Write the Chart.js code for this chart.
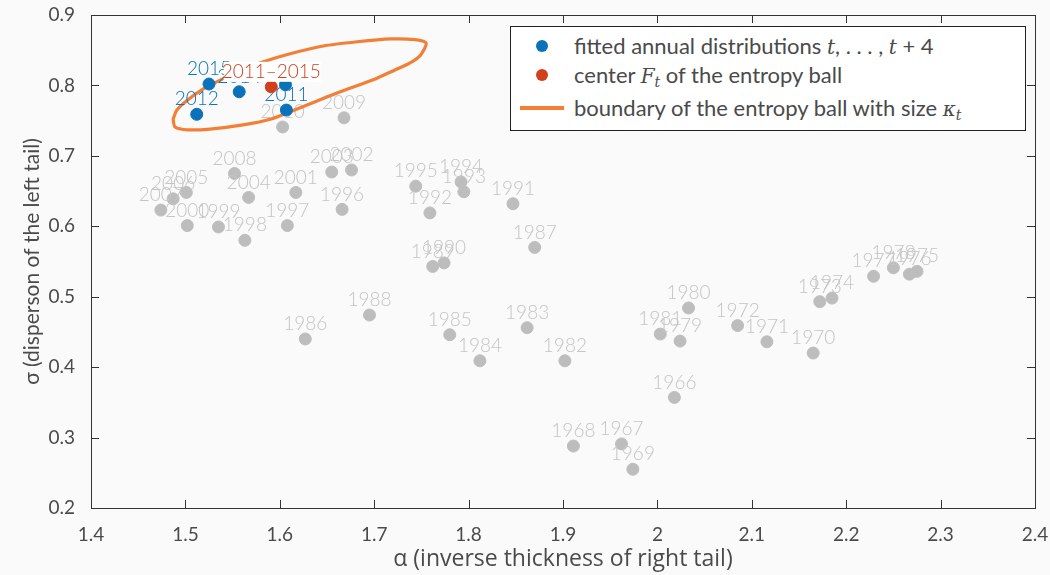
<!DOCTYPE html>
<html>
<head>
<meta charset="utf-8">
<script src="https://cdn.jsdelivr.net/npm/chart.js@4.4.1/dist/chart.umd.min.js"></script>
<style>
  html, body { margin: 0; padding: 0; background: #fafafa; }
  #wrap { position: relative; width: 1050px; height: 575px; }
  #legend {
    position: absolute; left: 510px; top: 26px; width: 514px; height: 103px;
    background: #ffffff; border: 1.5px solid #222;
    font-family: "Lato", "Open Sans", sans-serif; font-size: 22px; color: #4a4a4a;
  }
  .row { position: absolute; left: 0; height: 26px; line-height: 26px; white-space: nowrap; }
  .row .txt { position: absolute; left: 63px; top: 0; }
  .dot { position: absolute; left: 25px; top: 7px; width: 12px; height: 12px; border-radius: 50%; }
  .bar { position: absolute; left: 9px; top: 11px; width: 44px; height: 4px; }
  .m { font-family: "DejaVu Serif", "Liberation Serif", serif; font-style: italic; font-size: 20px; }
  .m sub { font-size: 14px; vertical-align: -4px; }
</style>
</head>
<body>
<div id="wrap">
  <canvas id="c" width="1050" height="575"></canvas>
  <div id="legend"></div>
</div>
<script>
// Yearly fitted parameters (alpha, sigma) for all years outside the current window
const greyYears = [2010, 2009, 2008, 2005, 2006, 2007, 2004, 2001, 2003, 2002, 1996, 2000, 1999, 1998, 1997,
                   1995, 1994, 1993, 1992, 1991, 1987, 1989, 1990, 1986, 1988, 1985, 1984, 1983, 1982,
                   1980, 1981, 1979, 1966, 1968, 1967, 1969, 1972, 1971, 1970, 1973, 1974, 1977, 1978, 1976, 1975];
const greyAlpha = [1.603, 1.668, 1.552, 1.501, 1.487, 1.474, 1.567, 1.617, 1.655, 1.676, 1.666, 1.502, 1.535, 1.563, 1.608,
                   1.744, 1.792, 1.795, 1.759, 1.847, 1.870, 1.762, 1.774, 1.627, 1.695, 1.780, 1.812, 1.862, 1.902,
                   2.033, 2.003, 2.024, 2.018, 1.911, 1.962, 1.974, 2.085, 2.116, 2.165, 2.172, 2.185, 2.229, 2.250, 2.267, 2.275];
const greySigma = [0.741, 0.754, 0.675, 0.648, 0.639, 0.623, 0.641, 0.648, 0.677, 0.680, 0.624, 0.601, 0.599, 0.580, 0.601,
                   0.657, 0.663, 0.649, 0.619, 0.632, 0.570, 0.543, 0.548, 0.440, 0.474, 0.446, 0.409, 0.456, 0.409,
                   0.484, 0.447, 0.437, 0.357, 0.288, 0.291, 0.255, 0.459, 0.436, 0.420, 0.493, 0.498, 0.529, 0.541, 0.532, 0.536];

// Fitted annual distributions t, ..., t+4
const windowYears = [2015, 2014, 2013, 2011, 2012];
const windowAlpha = [1.525, 1.557, 1.606, 1.607, 1.512];
const windowSigma = [0.802, 0.791, 0.801, 0.765, 0.759];

// Center of the entropy ball
const centerLabel = ['2011\u20132015'];
const centerAlpha = [1.591];
const centerSigma = [0.798];

// Boundary of the entropy ball
const ballAlpha = [1.487, 1.491, 1.502, 1.519, 1.539, 1.560, 1.581, 1.611, 1.646, 1.682, 1.717, 1.743, 1.755,
                   1.749, 1.738, 1.722, 1.699, 1.664, 1.621, 1.590, 1.561, 1.526, 1.502, 1.489, 1.487];
const ballSigma = [0.752, 0.765, 0.779, 0.795, 0.809, 0.822, 0.833, 0.845, 0.856, 0.862, 0.866, 0.865, 0.860,
                   0.843, 0.832, 0.822, 0.808, 0.791, 0.768, 0.752, 0.744, 0.738, 0.737, 0.741, 0.752];

// Axis ticks
const xTicks = [1.4, 1.5, 1.6, 1.7, 1.8, 1.9, 2.0, 2.1, 2.2, 2.3, 2.4];
const yTicks = [0.2, 0.3, 0.4, 0.5, 0.6, 0.7, 0.8, 0.9];

const BLUE = '#0a72ba', RED = '#d2401b', ORANGE = '#f27f35', GREY = '#bdbdbd', TXT = '#4a4a4a';
const FONT = '"Lato", "Open Sans", sans-serif';

const zip = (xs, ys) => xs.map((x, i) => ({ x, y: ys[i] }));

// Year labels above each marker
const pointLabels = {
  id: 'pointLabels',
  afterDatasetDraw(chart, args) {
    const ds = chart.data.datasets[args.index];
    if (!ds.pointText) return;
    const ctx = chart.ctx;
    const meta = args.meta;
    ctx.save();
    ctx.font = '300 19px ' + FONT;
    ctx.textAlign = 'center';
    ctx.textBaseline = 'middle';
    meta.data.forEach((el, i) => {
      const t = String(ds.pointText[i]);
      const x = el.x, y = el.y - 15;
      if (ds.textBackground) {
        const w = ctx.measureText(t).width;
        ctx.fillStyle = ds.textBackground;
        ctx.fillRect(x - w / 2 + 2, y - 10, w - 2, 20);
      }
      ctx.fillStyle = ds.textColor;
      ctx.fillText(t, x, y);
    });
    ctx.restore();
  }
};

// Box frame with inward tick marks on all four sides
const frame = {
  id: 'frame',
  afterDraw(chart) {
    const { ctx, chartArea: a, scales } = chart;
    const L = 8;
    ctx.save();
    ctx.strokeStyle = '#333';
    ctx.lineWidth = 1;
    ctx.beginPath();
    scales.x.ticks.forEach(t => {
      const px = Math.round(scales.x.getPixelForValue(t.value)) + 0.5;
      ctx.moveTo(px, a.bottom); ctx.lineTo(px, a.bottom - L);
      ctx.moveTo(px, a.top); ctx.lineTo(px, a.top + L);
    });
    scales.y.ticks.forEach(t => {
      const py = Math.round(scales.y.getPixelForValue(t.value)) + 0.5;
      ctx.moveTo(a.left, py); ctx.lineTo(a.left + L, py);
      ctx.moveTo(a.right, py); ctx.lineTo(a.right - L, py);
    });
    ctx.stroke();
    ctx.strokeRect(Math.round(a.left) + 0.5, Math.round(a.top) + 0.5,
                   Math.round(a.right - a.left), Math.round(a.bottom - a.top));
    ctx.restore();
  }
};

const chart = new Chart(document.getElementById('c'), {
  type: 'scatter',
  data: {
    datasets: [
      {
        label: 'center of the entropy ball',
        data: zip(centerAlpha, centerSigma),
        pointText: centerLabel, textColor: RED, textBackground: '#ffffff',
        backgroundColor: RED, borderColor: RED, pointRadius: 6, pointHoverRadius: 6, order: 0
      },
      {
        label: 'fitted annual distributions',
        data: zip(windowAlpha, windowSigma),
        pointText: windowYears, textColor: BLUE,
        backgroundColor: BLUE, borderColor: BLUE, pointRadius: 6, pointHoverRadius: 6, order: 1
      },
      {
        label: 'boundary of the entropy ball',
        data: zip(ballAlpha, ballSigma),
        showLine: true, borderColor: ORANGE, borderWidth: 3.2, pointRadius: 0,
        tension: 0.25, borderJoinStyle: 'round', borderCapStyle: 'round', order: 2
      },
      {
        label: 'other years',
        data: zip(greyAlpha, greySigma),
        pointText: greyYears, textColor: '#c4c4c4',
        backgroundColor: GREY, borderColor: GREY, pointRadius: 6, pointHoverRadius: 6, order: 3
      }
    ]
  },
  options: {
    responsive: false,
    animation: false,
    layout: { padding: { top: 15, right: 15, left: 0, bottom: 0 } },
    plugins: { legend: { display: false }, tooltip: { enabled: false } },
    scales: {
      x: {
        type: 'linear', min: xTicks[0], max: xTicks[xTicks.length - 1],
        afterBuildTicks: s => { s.ticks = xTicks.map(v => ({ value: v })); },
        afterFit: s => { s.height = 67; s.paddingLeft = 0; s.paddingRight = 0; },
        grid: { display: false }, border: { display: false },
        ticks: { color: TXT, font: { family: FONT, size: 19 }, padding: 7,
                 callback: v => String(Number(v.toFixed(1))) },
        title: { display: true, text: '\u03b1 (inverse thickness of right tail)', color: TXT,
                 font: { family: '"Open Sans", "Lato", sans-serif', size: 23 }, padding: { top: 0, bottom: 2 } }
      },
      y: {
        type: 'linear', min: yTicks[0], max: yTicks[yTicks.length - 1],
        afterBuildTicks: s => { s.ticks = yTicks.map(v => ({ value: v })); },
        afterFit: s => { s.width = 91; s.paddingTop = 0; s.paddingBottom = 0; },
        grid: { display: false }, border: { display: false },
        ticks: { color: TXT, font: { family: FONT, size: 19 }, padding: 8,
                 callback: v => v.toFixed(1) },
        title: { display: true, text: '\u03c3 (disperson of the left tail)', color: TXT,
                 font: { family: FONT, size: 21 }, padding: { top: 20, bottom: 0 } }
      }
    }
  },
  plugins: [pointLabels, frame]
});

// Legend entries built from the dataset styles
const legendRows = [
  { top: 6,  kind: 'dot', color: BLUE, html: 'fitted annual distributions <span class="m">t</span>, . . . , <span class="m">t</span> + 4' },
  { top: 35, kind: 'dot', color: RED, html: 'center <span class="m">F<sub>t</sub></span> of the entropy ball' },
  { top: 68, kind: 'bar', color: ORANGE, html: 'boundary of the entropy ball with size <span class="m">\u03ba<sub>t</sub></span>' }
];
const legendEl = document.getElementById('legend');
legendRows.forEach(r => {
  const row = document.createElement('div');
  row.className = 'row';
  row.style.top = r.top + 'px';
  row.style.width = '100%';
  const mk = document.createElement('div');
  mk.className = r.kind;
  mk.style.background = r.color;
  row.appendChild(mk);
  const tx = document.createElement('span');
  tx.className = 'txt';
  tx.innerHTML = r.html;
  row.appendChild(tx);
  legendEl.appendChild(row);
});
</script>
</body>
</html>
